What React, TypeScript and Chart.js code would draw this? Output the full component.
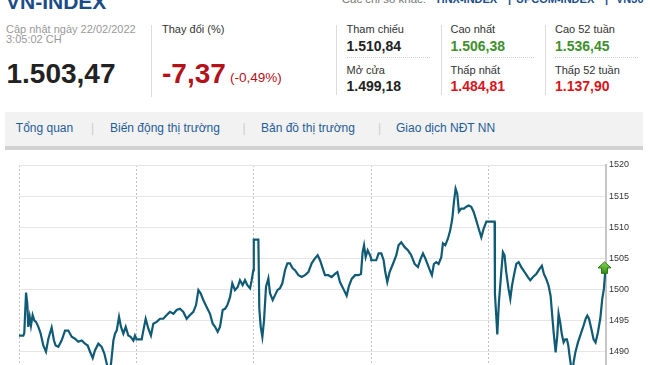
import React, { useEffect, useRef } from "react";
import { Chart, registerables } from "chart.js";

Chart.register(...registerables);

const FONT = '"Liberation Sans", Arial, Helvetica, sans-serif';

// Trading days shown (x position inside a day = % of the session, 0..100)
const dayLabels = ["16/02", "17/02", "18/02", "21/02", "22/02"];

const feb16: [number, number][] = [
  [0, 1492.6], [3.7, 1492.6], [4.5, 1493], [6.0, 1499.5], [7.1, 1497.7], [7.9, 1494], [9.1, 1495.6],
  [10.2, 1494.2], [11.6, 1495.9], [13.1, 1495], [14.5, 1494.8], [16.5, 1494], [18.5, 1492.9], [20.7, 1491],
  [23.0, 1490], [25.0, 1492.1], [27.8, 1493.9], [29.8, 1491.8], [31.2, 1491], [33.5, 1490.8], [36.3, 1491.8],
  [39.2, 1493.4], [42.0, 1493.4], [44.9, 1492.4], [47.7, 1492.1], [50.5, 1491.6], [53.4, 1491.8], [56.2, 1491.3],
  [58.5, 1491], [60.5, 1490], [62.8, 1489], [64.7, 1490.2], [67.6, 1491.3], [70.4, 1490.8], [72.7, 1489.7],
  [74.7, 1488.1], [76.7, 1486.5], [78.4, 1488.1], [80.4, 1491.8], [81.8, 1492.9], [83.2, 1493.4], [85.2, 1495.6],
  [86.9, 1494], [88.9, 1492.9], [90.9, 1494], [93.1, 1492.6], [95.1, 1492.4], [97.4, 1491.8], [98.8, 1492.6],
  [100, 1492.1],
];

const feb17: [number, number][] = [
  [0, 1492.0], [4.5, 1492.0], [5.9, 1493.4], [7.9, 1495.3], [10.2, 1493.7], [12.4, 1492.6], [14.4, 1494.5],
  [17.3, 1494.8], [20.1, 1495.3], [22.9, 1495.3], [25.8, 1495.9], [28.6, 1496.4], [31.5, 1496.1], [34.3, 1496.7],
  [37.1, 1496.9], [40.0, 1496.4], [42.8, 1495.3], [45.7, 1495.9], [48.5, 1496.4], [50.8, 1497.5], [52.8, 1499.9],
  [54.7, 1499.4], [57.0, 1498.3], [59.8, 1497.2], [62.7, 1496.1], [65.0, 1494.5], [67.0, 1494], [69.2, 1493.2],
  [71.2, 1494], [73.5, 1496.7], [75.5, 1496.9], [77.5, 1497.5], [79.8, 1498.8], [81.7, 1501], [84.0, 1499.9],
  [86.3, 1500.4], [88.2, 1501.5], [90.5, 1500.7], [92.5, 1501.5], [94.5, 1500.7], [96.8, 1500.2], [98.2, 1501.5],
  [99.6, 1503.1],
];

const feb18: [number, number][] = [
  [0, 1508], [3.9, 1508], [4.7, 1496.9], [5.9, 1494], [7.3, 1492.4], [8.7, 1495], [10.4, 1500.4], [12.4, 1501.8],
  [13.8, 1499.4], [16.1, 1498.3], [18.1, 1499.1], [20.1, 1499.9], [22.3, 1500.2], [24.3, 1501], [26.6, 1503.1],
  [28.6, 1504.2], [30.8, 1504.2], [33.1, 1503.4], [35.1, 1503.1], [38.0, 1502.3], [40.8, 1502], [43.6, 1502.3],
  [46.5, 1502.8], [49.3, 1504.2], [52.1, 1505], [54.4, 1505.5], [56.4, 1504.7], [58.7, 1503.4], [60.6, 1502.3],
  [63.5, 1502.3], [66.3, 1502], [69.2, 1502.5], [71.2, 1502.8], [73.4, 1501.2], [76.3, 1500.1], [79.1, 1499],
  [81.1, 1500.6], [83.4, 1501.7], [86.2, 1502.3], [89.0, 1502.3], [91.3, 1502.5], [92.7, 1506], [93.9, 1507.1],
  [95.3, 1505.2], [97.0, 1506.3], [99.0, 1505.5], [100, 1505],
];

const feb21: [number, number][] = [
  [0, 1504.7], [4.3, 1504.7], [6.3, 1505.8], [8.6, 1505.8], [10.6, 1504.7], [12.0, 1502.8], [13.7, 1501.2],
  [15.7, 1502.8], [18.5, 1504.1], [21.4, 1505.5], [23.3, 1507.1], [25.6, 1507.6], [28.5, 1506.8], [31.3, 1506.3],
  [34.1, 1505.5], [37.0, 1504.1], [39.8, 1503.6], [42.1, 1504.9], [44.1, 1505.8], [46.3, 1504.9], [48.3, 1503.9],
  [50.6, 1502.8], [51.7, 1502.3], [53.4, 1504.1], [55.4, 1504.4], [57.4, 1504.1], [59.7, 1505.2], [61.1, 1507.4],
  [63.1, 1507.1], [65.4, 1508.2], [67.3, 1509.5], [69.1, 1511.4], [70.5, 1514.1], [71.9, 1516.2], [73.3, 1515.4],
  [74.7, 1512.5], [76.7, 1513], [79.0, 1513], [81.0, 1513.3], [83.0, 1513.5], [85.2, 1513.3], [87.2, 1512.5],
  [89.5, 1511.1], [91.5, 1509.8], [93.8, 1508.4], [95.8, 1509.8], [98.1, 1510.9], [100, 1510.9],
];

const feb22: [number, number][] = [
  [0, 1510.9], [5.1, 1510.9], [5.4, 1499.3], [6.5, 1495.8], [7.4, 1492.8], [8.8, 1498], [10.8, 1502.8],
  [12.2, 1506], [13.6, 1505.5], [15.0, 1502.8], [17.0, 1500.1], [18.5, 1498.5], [19.9, 1500.6], [21.6, 1502.3],
  [23.6, 1504.1], [25.6, 1504.4], [27.8, 1503.6], [30.7, 1502.8], [33.5, 1502], [35.5, 1501.5], [37.8, 1502],
  [40.6, 1502.5], [43.4, 1503.3], [45.4, 1503.8], [47.1, 1502.5], [49.1, 1501.7], [51.1, 1500.6], [52.8, 1499],
  [54.2, 1495.8], [55.4, 1493.1], [57.1, 1489.9], [58.5, 1492.6], [59.6, 1496.1], [61.0, 1494.7], [62.4, 1492.8],
  [63.9, 1491.5], [65.3, 1492], [66.7, 1492], [67.9, 1491], [69.0, 1489.3], [70.2, 1487.7], [71.0, 1484.81],
  [72.4, 1488.3], [73.9, 1489.9], [76.1, 1491.5], [78.4, 1492.8], [80.4, 1493.9], [82.7, 1495.3], [84.1, 1495.8],
  [85.5, 1495.3], [87.5, 1493.7], [89.4, 1492], [91.1, 1491.5], [93.1, 1493.1], [95.1, 1495.3], [96.8, 1498.5],
  [98.2, 1500.1], [99.6, 1503.47],
];

const sessions = [feb16, feb17, feb18, feb21, feb22];

const yMin = 1480;
const yMax = 1520;
const yStep = 5;

// Header texts
const title = "VN-INDEX";
const otherLabel = "Các chỉ số khác:";
const otherLinks = ["HNX-INDEX", "UPCOM-INDEX", "VN30"];
const updatedLine1 = "Cập nhật ngày 22/02/2022";
const updatedLine2 = "3:05:02 CH";
const lastValue = "1.503,47";
const changeLabel = "Thay đổi (%)";
const changeValue = "-7,37";
const changePct = "(-0,49%)";
const statLabels = [["Tham chiếu", "Mở cửa"], ["Cao nhất", "Thấp nhất"], ["Cao 52 tuần", "Thấp 52 tuần"]];
const statValues = [["1.510,84", "1.499,18"], ["1.506,38", "1.484,81"], ["1.536,45", "1.137,90"]];
const navItems = ["Tổng quan", "Biến động thị trường", "Bản đồ thị trường", "Giao dịch NĐT NN"];

type TP = {
  x: number; b: number; s: number; c: string; w?: number | string; children: React.ReactNode;
};
const T = ({ x, b, s, c, w, children }: TP) => (
  <div
    style={{
      position: "absolute", left: x, top: b - 0.8465 * s, fontSize: s, lineHeight: `${s}px`,
      color: c, fontWeight: (w as any) || 400, fontFamily: FONT, whiteSpace: "nowrap",
    }}
  >
    {children}
  </div>
);

const arrowPlugin = {
  id: "lastArrow",
  afterDatasetsDraw(chart: any) {
    const meta = chart.getDatasetMeta(0);
    const pt = meta.data[meta.data.length - 1];
    if (!pt) return;
    const ctx = chart.ctx as CanvasRenderingContext2D;
    const cx = pt.x - 1;
    const y = pt.y;
    ctx.save();
    const g = ctx.createLinearGradient(0, y - 6, 0, y + 6);
    g.addColorStop(0, "#86d452");
    g.addColorStop(1, "#2f8c14");
    ctx.beginPath();
    ctx.moveTo(cx, y - 6);
    ctx.lineTo(cx + 6.5, y);
    ctx.lineTo(cx + 3, y);
    ctx.lineTo(cx + 3, y + 5.5);
    ctx.lineTo(cx - 3, y + 5.5);
    ctx.lineTo(cx - 3, y);
    ctx.lineTo(cx - 6.5, y);
    ctx.closePath();
    ctx.fillStyle = g;
    ctx.fill();
    ctx.strokeStyle = "#2c7a14";
    ctx.lineWidth = 1;
    ctx.stroke();
    ctx.restore();
  },
};

export default function App() {
  const ref = useRef<HTMLCanvasElement | null>(null);

  useEffect(() => {
    if (!ref.current) return;
    const points: { x: number; y: number }[] = [];
    sessions.forEach((s, d) => s.forEach(([t, v]) => points.push({ x: d * 100 + t, y: v })));
    const chart = new Chart(ref.current, {
      type: "line",
      data: {
        datasets: [
          {
            label: title,
            data: points,
            borderColor: "#0f5a75",
            borderWidth: 2.2,
            pointRadius: 0,
            tension: 0,
            fill: false,
          },
        ],
      },
      options: {
        animation: false,
        responsive: false,
        layout: { padding: { top: 10, left: 19, right: 0, bottom: 10 } },
        plugins: { legend: { display: false }, tooltip: { enabled: false } },
        scales: {
          x: {
            type: "linear",
            min: 0,
            max: dayLabels.length * 100,
            ticks: { display: false, stepSize: 100 },
            grid: { color: "#c4c4c4", lineWidth: 1, drawTicks: false },
            border: { display: false, dash: [2, 2] },
          },
          y: {
            position: "right",
            min: yMin,
            max: yMax,
            ticks: {
              stepSize: yStep,
              color: "#333",
              padding: 3,
              font: { family: FONT, size: 9 },
              callback: (v: any) => String(v),
            },
            grid: { color: "#e6e6e6", lineWidth: 1, drawTicks: false },
            border: { display: true, color: "#c6c6c6", width: 2 },
            afterFit: (s: any) => { s.width = 44; },
          },
        },
      },
      plugins: [arrowPlugin],
    });
    return () => chart.destroy();
  }, []);

  const colX = [346.5, 450.5, 555];
  const valColors = [["#222", "#222"], ["#3f8f2f", "#d7141a"], ["#3f8f2f", "#d7141a"]];

  return (
    <div style={{ position: "absolute", left: 0, top: 0, width: 650, height: 365, overflow: "hidden", background: "#fff", fontFamily: FONT }}>
      <T x={6} b={8.5} s={21} c="#1b4c88" w={700}>{title}</T>
      <T x={341.7} b={3.5} s={11.5} c="#777">{otherLabel}</T>
      <T x={436.7} b={3.5} s={11} c="#1b4c88" w={700}>{otherLinks[0]}</T>
      <T x={508} b={3.5} s={11} c="#1b4c88" w={700}>|</T>
      <T x={516} b={3.5} s={11} c="#1b4c88" w={700}>{otherLinks[1]}</T>
      <T x={605} b={3.5} s={11} c="#1b4c88" w={700}>|</T>
      <T x={616} b={3.5} s={11} c="#1b4c88" w={700}>{otherLinks[2]}</T>

      <T x={6} b={33.5} s={11} c="#999">{updatedLine1}</T>
      <T x={6} b={43.5} s={11} c="#999">{updatedLine2}</T>
      <T x={6.5} b={83.3} s={28} c="#222" w={700}>{lastValue}</T>
      <div style={{ position: "absolute", left: 151, top: 25, width: 1, height: 72, background: "#dcdcdc" }} />
      <T x={162} b={33.5} s={11} c="#333">{changeLabel}</T>
      <T x={162} b={83.3} s={28} c="#b3121b" w={700}>{changeValue}</T>
      <T x={230} b={82.7} s={13.5} c="#b3121b">{changePct}</T>

      {[336, 440.5, 544.5].map((x, i) => (
        <div key={"sep" + i} style={{ position: "absolute", left: x, top: 25, width: 1, height: 70, background: "#dcdcdc" }} />
      ))}
      {colX.map((x, i) => (
        <React.Fragment key={"col" + i}>
          <T x={x} b={33.5} s={11} c="#333">{statLabels[i][0]}</T>
          <T x={x} b={50.5} s={14} c={valColors[i][0]} w={700}>{statValues[i][0]}</T>
          <div style={{ position: "absolute", left: x, top: 57, width: 83, height: 0, borderTop: "1px dotted #cfcfcf" }} />
          <T x={x} b={74} s={11} c="#333">{statLabels[i][1]}</T>
          <T x={x} b={90.7} s={14} c={valColors[i][1]} w={700}>{statValues[i][1]}</T>
        </React.Fragment>
      ))}

      <div style={{ position: "absolute", left: 5, top: 112, width: 638, height: 34, background: "#f2f2f2", borderBottom: "4px solid #d2d2d2" }} />
      <T x={15.8} b={132} s={12} c="#1f5c99">{navItems[0]}</T>
      <T x={91} b={132} s={12} c="#ccc">|</T>
      <T x={110} b={132} s={12} c="#1f5c99">{navItems[1]}</T>
      <T x={242.5} b={132} s={12} c="#ccc">|</T>
      <T x={261} b={132} s={12} c="#1f5c99">{navItems[2]}</T>
      <T x={378} b={132} s={12} c="#ccc">|</T>
      <T x={396} b={132} s={12} c="#1f5c99">{navItems[3]}</T>

      <div style={{ position: "absolute", left: 0, top: 155, width: 650, height: 269 }}>
        <canvas ref={ref} width={650} height={269} style={{ display: "block", width: 650, height: 269 }} />
      </div>
    </div>
  );
}
